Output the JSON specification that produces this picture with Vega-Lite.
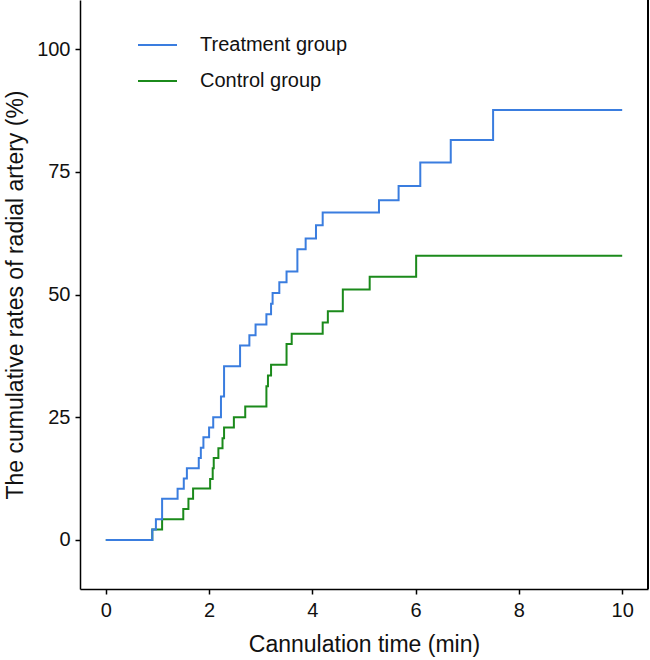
{
  "$schema": "https://vega.github.io/schema/vega-lite/v6.json",
  "width": 568,
  "height": 589,
  "autosize": {"type": "none"},
  "padding": {"left": 80, "top": 0, "right": 2, "bottom": 71},
  "background": "white",
  "config": {
    "font": "Liberation Sans",
    "view": {"stroke": null},
    "axis": {
      "grid": false,
      "domainColor": "black",
      "domainWidth": 1.5,
      "tickColor": "black",
      "tickWidth": 1.5,
      "tickSize": 5,
      "labelFont": "Liberation Sans",
      "labelFontSize": 20,
      "labelColor": "#111",
      "titleFont": "Liberation Sans",
      "titleFontSize": 23,
      "titleFontWeight": "normal",
      "titleColor": "#111"
    },
    "legend": {
      "orient": "none",
      "legendX": 57,
      "legendY": 27,
      "symbolType": "stroke",
      "symbolSize": 1521,
      "symbolStrokeWidth": 2,
      "labelFont": "Liberation Sans",
      "labelFontSize": 20,
      "labelColor": "#111",
      "labelOffset": 22,
      "clipHeight": 36,
      "rowPadding": 0,
      "title": null
    }
  },
  "data": {
    "values": [
      {"group": "Treatment group", "t": 0, "v": 0},
      {"group": "Treatment group", "t": 0.90, "v": 2.1},
      {"group": "Treatment group", "t": 0.97, "v": 4.2},
      {"group": "Treatment group", "t": 1.09, "v": 8.4},
      {"group": "Treatment group", "t": 1.39, "v": 10.4},
      {"group": "Treatment group", "t": 1.51, "v": 12.5},
      {"group": "Treatment group", "t": 1.57, "v": 14.6},
      {"group": "Treatment group", "t": 1.80, "v": 16.7},
      {"group": "Treatment group", "t": 1.84, "v": 18.8},
      {"group": "Treatment group", "t": 1.89, "v": 20.9},
      {"group": "Treatment group", "t": 2.00, "v": 22.9},
      {"group": "Treatment group", "t": 2.08, "v": 25.0},
      {"group": "Treatment group", "t": 2.23, "v": 29.2},
      {"group": "Treatment group", "t": 2.29, "v": 35.4},
      {"group": "Treatment group", "t": 2.60, "v": 39.6},
      {"group": "Treatment group", "t": 2.78, "v": 41.7},
      {"group": "Treatment group", "t": 2.90, "v": 43.9},
      {"group": "Treatment group", "t": 3.11, "v": 46.0},
      {"group": "Treatment group", "t": 3.20, "v": 48.1},
      {"group": "Treatment group", "t": 3.23, "v": 50.3},
      {"group": "Treatment group", "t": 3.36, "v": 52.5},
      {"group": "Treatment group", "t": 3.50, "v": 54.7},
      {"group": "Treatment group", "t": 3.71, "v": 59.2},
      {"group": "Treatment group", "t": 3.87, "v": 61.4},
      {"group": "Treatment group", "t": 4.07, "v": 64.1},
      {"group": "Treatment group", "t": 4.20, "v": 66.7},
      {"group": "Treatment group", "t": 5.29, "v": 69.2},
      {"group": "Treatment group", "t": 5.67, "v": 72.1},
      {"group": "Treatment group", "t": 6.09, "v": 76.9},
      {"group": "Treatment group", "t": 6.68, "v": 81.5},
      {"group": "Treatment group", "t": 7.50, "v": 87.6},
      {"group": "Treatment group", "t": 10.0, "v": 87.6},
      {"group": "Control group", "t": 0, "v": 0},
      {"group": "Control group", "t": 0.90, "v": 2.1},
      {"group": "Control group", "t": 1.09, "v": 4.2},
      {"group": "Control group", "t": 1.50, "v": 6.3},
      {"group": "Control group", "t": 1.60, "v": 8.4},
      {"group": "Control group", "t": 1.69, "v": 10.5},
      {"group": "Control group", "t": 2.02, "v": 12.4},
      {"group": "Control group", "t": 2.07, "v": 14.6},
      {"group": "Control group", "t": 2.09, "v": 16.7},
      {"group": "Control group", "t": 2.18, "v": 18.7},
      {"group": "Control group", "t": 2.26, "v": 20.7},
      {"group": "Control group", "t": 2.29, "v": 22.9},
      {"group": "Control group", "t": 2.48, "v": 25.0},
      {"group": "Control group", "t": 2.70, "v": 27.2},
      {"group": "Control group", "t": 3.11, "v": 31.3},
      {"group": "Control group", "t": 3.14, "v": 33.5},
      {"group": "Control group", "t": 3.20, "v": 35.7},
      {"group": "Control group", "t": 3.50, "v": 39.9},
      {"group": "Control group", "t": 3.60, "v": 42.0},
      {"group": "Control group", "t": 4.20, "v": 44.3},
      {"group": "Control group", "t": 4.30, "v": 46.6},
      {"group": "Control group", "t": 4.59, "v": 51.0},
      {"group": "Control group", "t": 5.11, "v": 53.6},
      {"group": "Control group", "t": 6.01, "v": 57.9},
      {"group": "Control group", "t": 10.0, "v": 57.9}
    ]
  },
  "encoding": {
    "x": {
      "field": "t", "type": "quantitative",
      "scale": {"domain": [-0.5, 10.5], "nice": false, "zero": false},
      "axis": {"values": [0, 2, 4, 6, 8, 10], "title": "Cannulation time (min)", "labelPadding": 6, "titlePadding": 13}
    },
    "y": {
      "field": "v", "type": "quantitative",
      "scale": {"domain": [-10, 110], "nice": false, "zero": false},
      "axis": {"values": [0, 25, 50, 75, 100], "title": "The cumulative rates of radial artery (%)", "labelPadding": 5, "titlePadding": 9}
    },
    "color": {
      "field": "group", "type": "nominal",
      "scale": {"domain": ["Treatment group", "Control group"], "range": ["#3A7DDF", "#1B8A1B"]}
    }
  },
  "layer": [
    {
      "transform": [{"filter": "datum.group === 'Control group'"}],
      "mark": {"type": "line", "interpolate": "step-after", "strokeWidth": 2}
    },
    {
      "transform": [{"filter": "datum.group === 'Treatment group'"}],
      "mark": {"type": "line", "interpolate": "step-after", "strokeWidth": 2}
    },
    {
      "mark": {"type": "rule", "color": "black", "strokeWidth": 1.5},
      "encoding": {"x": {"datum": 10.5}, "y": null, "color": null}
    }
  ]
}
